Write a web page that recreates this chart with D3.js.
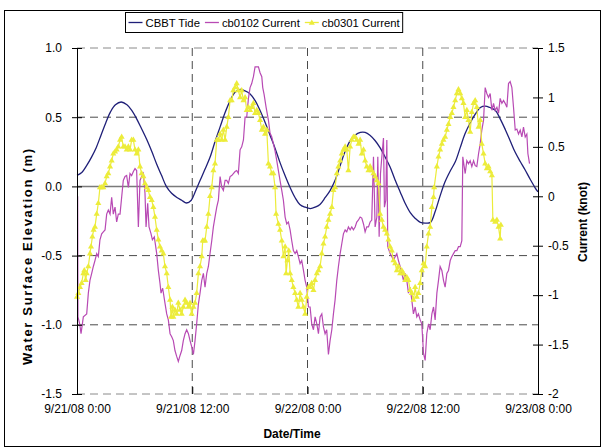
<!DOCTYPE html>
<html>
<head>
<meta charset="utf-8">
<script src="https://cdn.jsdelivr.net/npm/d3@7"></script>
<style>
  body { margin: 0; background: #fff; }
  svg { display: block; font-family: "Liberation Sans", Arial, sans-serif; }
</style>
</head>
<body>
<div id="chart"></div>
<script>
// hours since 9/21/08 0:00, water level (m)
const tideSeries = [
  [0,0.08],[0.5,0.10],[1,0.15],[1.5,0.21],[2,0.28],[2.5,0.37],[3,0.46],[3.5,0.54],[4,0.59],[4.6,0.61],
  [5.2,0.59],[5.7,0.55],[6.2,0.49],[6.7,0.42],[7.25,0.34],[7.8,0.25],[8.3,0.16],[8.8,0.08],[9.3,0.00],
  [9.85,-0.05],[10.4,-0.08],[10.9,-0.10],[11.4,-0.12],[11.9,-0.10],[12.3,-0.04],[12.8,0.04],[13.3,0.12],
  [13.85,0.21],[14.4,0.33],[14.9,0.43],[15.4,0.53],[15.95,0.62],[16.45,0.68],[17,0.70],[17.5,0.69],
  [18,0.67],[18.55,0.62],[19.05,0.55],[19.6,0.46],[20.1,0.37],[20.6,0.28],[21.15,0.17],[21.65,0.08],
  [22.2,-0.01],[22.7,-0.08],[23.2,-0.13],[23.75,-0.15],[24.3,-0.16],[24.8,-0.15],[25.3,-0.13],
  [25.85,-0.08],[26.35,-0.03],[26.85,0.04],[27.4,0.15],[27.9,0.25],[28.45,0.33],[28.95,0.37],[29.5,0.39],
  [30,0.39],[30.5,0.37],[31.05,0.33],[31.55,0.28],[32.1,0.21],[32.6,0.14],[33.1,0.05],[33.65,-0.04],
  [34.15,-0.12],[34.7,-0.19],[35.2,-0.23],[35.75,-0.26],[36.25,-0.265],[36.8,-0.26],[37.3,-0.18],
  [37.8,-0.07],[38.3,0.03],[38.85,0.11],[39.4,0.18],[39.9,0.28],[40.4,0.38],[40.95,0.46],[41.45,0.52],
  [42,0.57],[42.5,0.58],[43,0.57],[43.55,0.55],[44.05,0.49],[44.6,0.41],[45.1,0.33],[45.6,0.25],
  [46.15,0.18],[46.65,0.12],[47.2,0.05],[47.7,-0.01],[48,-0.04]
];

// hours, current (knot)
const cb0102Series = [
  [0.07,0.0],[0.10,-1.22],[0.28,-1.29],[0.42,-1.39],[0.66,-1.22],[1.01,-1.19],[1.18,-0.98],[1.35,-0.85],
  [1.53,-0.78],[1.70,-0.71],[1.87,-0.65],[2.05,-0.58],[2.22,-0.61],[2.39,-0.44],[2.57,-0.38],[2.74,-0.36],
  [2.92,-0.34],[3.09,-0.18],[3.26,-0.14],[3.44,-0.18],[3.61,-0.01],[3.78,-0.18],[3.96,-0.11],[4.13,-0.26],
  [4.30,-0.18],[4.48,-0.18],[4.65,-0.01],[4.82,0.16],[5.00,0.20],[5.17,0.21],[5.35,0.09],[5.52,0.23],
  [5.69,0.21],[5.87,0.25],[6.04,0.28],[6.21,0.26],[6.39,-0.31],[6.56,0.16],[6.73,0.20],[6.91,0.23],
  [7.08,0.03],[7.19,-0.31],[7.36,-0.07],[7.50,-0.31],[7.71,-0.38],[7.85,-0.44],[8.05,-0.41],[8.30,-0.58],
  [8.47,-0.75],[8.64,-0.88],[8.75,-0.98],[8.92,-0.93],[9.16,-1.08],[9.34,-1.19],[9.51,-1.25],[9.69,-1.39],
  [9.86,-1.42],[10.03,-1.46],[10.20,-1.56],[10.38,-1.62],[10.55,-1.67],[10.73,-1.61],[10.90,-1.56],
  [11.07,-1.46],[11.25,-1.39],[11.42,-1.35],[11.60,-1.39],[11.77,-1.46],[11.94,-1.52],[12.12,-1.60],
  [12.29,-1.46],[12.46,-1.29],[12.64,-1.09],[12.81,-0.98],[12.99,-0.85],[13.16,-0.78],[13.33,-0.92],
  [13.51,-0.78],[13.68,-0.71],[13.85,-0.58],[14.03,-0.45],[14.20,-0.31],[14.37,-0.21],[14.55,-0.11],
  [14.72,-0.04],[14.90,0.20],[15.07,0.09],[15.24,0.06],[15.42,0.16],[15.59,0.16],[15.76,0.13],
  [15.94,0.20],[16.11,0.21],[16.28,0.23],[16.46,0.25],[16.63,0.26],[16.80,0.23],[16.98,0.47],
  [17.15,0.50],[17.33,0.57],[17.50,0.80],[17.67,0.80],[17.85,0.99],[18.02,1.10],[18.19,1.14],
  [18.37,1.21],[18.54,1.31],[18.72,1.31],[18.89,1.31],[19.06,1.25],[19.24,1.21],[19.34,1.10],
  [19.48,1.03],[19.69,0.90],[19.93,0.77],[20.10,0.64],[20.28,0.60],[20.45,0.53],[20.62,0.46],
  [20.80,0.36],[20.97,0.26],[21.14,0.16],[21.32,0.06],[21.49,-0.04],[21.67,-0.21],[21.84,-0.28],
  [22.01,-0.26],[22.19,-0.34],[22.36,-0.45],[22.53,-0.55],[22.71,-0.58],[22.88,-0.55],[23.05,-0.61],
  [23.23,-0.68],[23.40,-0.65],[23.58,-0.75],[23.75,-0.85],[23.92,-0.92],[24.10,-1.12],[24.27,-1.12],
  [24.44,-1.29],[24.62,-1.35],[24.79,-1.22],[24.97,-1.29],[25.14,-1.39],[25.31,-1.22],[25.49,-1.19],
  [25.66,-1.32],[25.83,-1.39],[26.00,-1.35],[26.18,-1.60],[26.35,-1.46],[26.53,-1.35],[26.70,-1.19],
  [26.87,-1.05],[27.05,-0.85],[27.22,-0.71],[27.40,-0.58],[27.57,-0.48],[27.74,-0.38],[27.92,-0.34],
  [28.09,-0.36],[28.26,-0.31],[28.44,-0.34],[28.61,-0.31],[28.78,-0.34],[28.96,-0.31],[29.13,-0.26],
  [29.31,-0.24],[29.48,-0.21],[29.65,-0.22],[29.83,-0.28],[30.00,-0.36],[30.17,-0.31],[30.35,-0.31],
  [30.52,-0.26],[30.69,-0.24],[30.87,0.40],[31.04,-0.31],[31.22,-0.21],[31.32,0.40],[31.46,-0.41],
  [31.60,0.23],[31.74,0.40],[31.91,0.59],[32.01,-0.11],[32.15,-0.04],[32.26,0.57],[32.36,-0.51],
  [32.60,-0.58],[32.78,-0.61],[32.95,-0.65],[33.13,-0.61],[33.30,-0.58],[33.47,-0.65],[33.65,-0.71],
  [33.82,-0.78],[33.99,-0.85],[34.17,-0.78],[34.34,-0.85],[34.51,-0.98],[34.69,-0.92],[34.86,-1.05],
  [35.03,-1.19],[35.21,-1.12],[35.38,-1.22],[35.55,-1.19],[35.73,-1.25],[35.90,-1.29],[36.08,-1.59],
  [36.25,-1.66],[36.42,-1.39],[36.60,-1.29],[36.77,-1.35],[36.95,-1.19],[37.12,-1.12],[37.29,-1.25],
  [37.47,-0.98],[37.64,-0.85],[37.81,-0.71],[37.99,-0.75],[38.16,-0.85],[38.33,-0.92],[38.51,-0.78],
  [38.68,-0.75],[38.86,-0.65],[39.03,-0.61],[39.20,-0.58],[39.38,-0.55],[39.55,-0.55],[39.72,-0.51],
  [39.90,-0.51],[40.07,-0.45],[40.17,0.40],[40.42,0.23],[40.59,0.36],[40.76,0.33],[40.94,0.36],
  [41.11,0.30],[41.29,0.36],[41.46,0.31],[41.63,0.30],[41.81,0.43],[41.98,0.53],[42.15,0.67],
  [42.33,0.77],[42.50,1.10],[42.67,1.04],[42.85,1.00],[43.02,1.04],[43.20,0.87],[43.37,0.94],
  [43.54,0.87],[43.72,0.90],[43.89,0.84],[44.06,0.99],[44.24,0.94],[44.41,0.97],[44.58,0.94],
  [44.76,0.90],[44.93,1.14],[45.10,1.16],[45.28,1.10],[45.45,0.90],[45.63,0.67],[45.80,0.68],
  [45.97,0.63],[46.15,0.67],[46.32,0.60],[46.49,0.70],[46.67,0.60],[46.84,0.63],[46.95,0.43],[47.12,0.33]
];

const cb0301Series = [
  [0.00,-1.02],[0.14,-0.98],[0.31,-0.92],[0.48,-0.88],[0.66,-0.78],[0.76,-0.75],[0.90,-0.85],[1.01,-0.78],
  [1.18,-0.71],[1.35,-0.58],[1.46,-0.51],[1.60,-0.41],[1.73,-0.34],[1.87,-0.31],[2.05,-0.18],[2.22,-0.07],
  [2.39,0.09],[2.57,0.09],[2.74,0.09],[2.92,0.13],[3.09,0.20],[3.26,0.23],[3.44,0.30],[3.61,0.36],
  [3.78,0.43],[3.96,0.45],[4.13,0.47],[4.30,0.50],[4.48,0.57],[4.65,0.60],[4.82,0.50],[5.00,0.50],
  [5.17,0.47],[5.35,0.50],[5.52,0.47],[5.69,0.57],[5.87,0.57],[6.04,0.47],[6.21,0.43],[6.39,0.47],
  [6.56,0.30],[6.73,0.23],[6.91,0.20],[7.08,0.13],[7.26,0.09],[7.43,0.06],[7.60,-0.01],[7.78,-0.04],
  [7.95,-0.11],[8.12,-0.21],[8.30,-0.34],[8.47,-0.44],[8.64,-0.51],[8.82,-0.55],[8.99,-0.58],[9.16,-0.71],
  [9.34,-0.78],[9.51,-0.92],[9.69,-1.05],[9.79,-1.22],[9.93,-1.12],[10.03,-1.22],[10.20,-1.15],
  [10.38,-1.19],[10.55,-1.08],[10.73,-1.15],[10.90,-1.19],[11.07,-1.12],[11.25,-1.05],[11.42,-1.08],
  [11.60,-1.12],[11.77,-1.08],[11.94,-1.19],[12.12,-1.12],[12.29,-1.08],[12.46,-0.98],[12.64,-0.78],
  [12.81,-0.71],[12.99,-0.61],[13.09,-0.45],[13.23,-0.45],[13.33,-0.45],[13.51,-0.31],[13.68,-0.18],
  [13.85,0.00],[14.03,0.09],[14.20,0.26],[14.37,0.33],[14.55,0.57],[14.72,0.57],[14.90,0.63],
  [15.07,0.57],[15.24,0.67],[15.42,0.57],[15.59,0.70],[15.76,0.80],[15.94,0.97],[16.11,0.97],
  [16.28,1.07],[16.46,1.10],[16.63,1.14],[16.80,1.07],[16.98,1.00],[17.15,1.07],[17.33,0.97],
  [17.50,1.00],[17.67,0.87],[17.85,0.90],[18.02,0.87],[18.19,0.90],[18.37,0.94],[18.54,0.84],
  [18.72,0.87],[18.89,0.84],[19.06,0.77],[19.24,0.67],[19.41,0.70],[19.58,0.63],[19.76,0.67],
  [19.93,0.33],[20.10,0.30],[20.28,0.23],[20.45,0.23],[20.62,0.09],[20.73,-0.18],[20.97,-0.28],
  [21.14,-0.34],[21.32,-0.45],[21.49,-0.61],[21.67,-0.51],[21.77,-0.78],[21.91,-0.65],[22.05,-0.55],
  [22.19,-0.78],[22.36,-0.85],[22.53,-0.92],[22.71,-0.98],[22.88,-1.05],[23.05,-1.12],[23.23,-0.98],
  [23.40,-1.05],[23.58,-1.12],[23.75,-1.19],[23.92,-1.02],[24.10,-0.92],[24.27,-0.92],[24.44,-0.88],
  [24.62,-0.95],[24.79,-0.85],[24.97,-0.78],[25.14,-0.75],[25.31,-0.71],[25.49,-0.58],[25.66,-0.48],
  [25.83,-0.41],[26.00,-0.31],[26.18,-0.24],[26.35,-0.18],[26.53,-0.11],[26.70,0.06],[26.87,0.09],
  [27.05,0.23],[27.22,0.30],[27.40,0.36],[27.57,0.43],[27.74,0.47],[27.92,0.50],[28.09,0.47],
  [28.26,0.26],[28.44,0.50],[28.61,0.57],[28.78,0.60],[28.96,0.60],[29.13,0.57],[29.31,0.53],
  [29.48,0.57],[29.65,0.43],[29.83,0.47],[30.00,0.36],[30.17,0.30],[30.35,0.26],[30.52,0.30],
  [30.69,0.26],[30.87,0.23],[31.04,0.20],[31.22,0.16],[31.39,0.13],[31.56,-0.18],[31.74,-0.24],
  [31.91,-0.31],[32.08,-0.34],[32.26,-0.38],[32.43,-0.44],[32.60,-0.51],[32.78,-0.55],[32.95,-0.65],
  [33.13,-0.68],[33.30,-0.75],[33.47,-0.71],[33.65,-0.78],[33.82,-0.75],[33.99,-0.78],[34.17,-0.85],
  [34.34,-0.82],[34.51,-0.85],[34.69,-0.95],[34.86,-0.98],[35.03,-1.05],[35.21,-0.92],[35.38,-1.02],
  [35.55,-0.98],[35.73,-0.88],[35.90,-0.75],[36.08,-0.68],[36.25,-0.71],[36.42,-0.51],[36.60,-0.38],
  [36.77,-0.31],[36.95,-0.11],[37.12,-0.01],[37.19,0.09],[37.47,0.30],[37.64,0.40],[37.81,0.47],
  [37.99,0.53],[38.16,0.57],[38.33,0.60],[38.51,0.67],[38.68,0.73],[38.86,0.80],[39.03,0.84],
  [39.20,0.90],[39.38,0.97],[39.55,1.04],[39.72,1.08],[39.90,1.04],[40.07,0.99],[40.24,0.94],
  [40.42,0.80],[40.59,0.87],[40.76,0.77],[40.94,0.65],[41.11,0.85],[41.29,0.94],[41.46,0.97],
  [41.63,0.90],[41.81,0.70],[41.98,0.77],[42.15,0.53],[42.33,0.43],[42.50,0.33],[42.67,0.28],
  [42.85,0.30],[43.02,0.25],[43.20,0.21],[43.30,-0.24],[43.54,-0.26],[43.72,-0.24],[43.89,-0.31],
  [44.06,-0.43],[44.13,-0.29]
];

const xTicks = [0, 12, 24, 36, 48];
const xTickLabels = ['9/21/08 0:00', '9/21/08 12:00', '9/22/08 0:00', '9/22/08 12:00', '9/23/08 0:00'];
const leftTicks = [1.0, 0.5, 0.0, -0.5, -1.0, -1.5];
const rightTicks = [1.5, 1, 0.5, 0, -0.5, -1, -1.5, -2];
const legendNames = ['CBBT Tide', 'cb0102 Current', 'cb0301 Current'];

const width = 605;
const height = 447;
const margin = { top: 48, right: 67, bottom: 53, left: 77 };
const innerWidth = width - margin.left - margin.right;
const innerHeight = height - margin.top - margin.bottom;

const navy = '#1f1f78';
const magenta = '#b84ab4';
const yellow = '#ecec3a';

const svg = d3.select('#chart')
  .append('svg')
  .attr('width', width)
  .attr('height', height);

// outer chart frame
svg.append('rect')
  .attr('x', 4.5).attr('y', 10.5)
  .attr('width', 596).attr('height', 436)
  .attr('fill', 'none')
  .attr('stroke', '#000');

const g = svg.append('g')
  .attr('transform', `translate(${margin.left},${margin.top})`);

const x = d3.scaleLinear().domain([0, 48]).range([0, innerWidth]);
const yLeft = d3.scaleLinear().domain([-1.5, 1.0]).range([innerHeight, 0]);
const yRight = d3.scaleLinear().domain([-2, 1.5]).range([innerHeight, 0]);

// grid
g.selectAll('.hgrid')
  .data(leftTicks.filter(d => d !== 0))
  .enter().append('line')
  .attr('x1', 0).attr('x2', innerWidth)
  .attr('y1', d => yLeft(d)).attr('y2', d => yLeft(d))
  .attr('stroke', d => (d === 1.0 || d === -1.5) ? '#8a8a8a' : '#4a4a4a')
  .attr('stroke-width', 1)
  .attr('stroke-dasharray', '8,5');

g.selectAll('.vgrid')
  .data(xTicks.slice(1, -1))
  .enter().append('line')
  .attr('x1', d => x(d)).attr('x2', d => x(d))
  .attr('y1', 0).attr('y2', innerHeight)
  .attr('stroke', '#4a4a4a')
  .attr('stroke-dasharray', '8,5');

g.append('line')
  .attr('x1', 0).attr('x2', innerWidth)
  .attr('y1', yLeft(0)).attr('y2', yLeft(0))
  .attr('stroke', '#7a7a7a')
  .attr('stroke-width', 1.5);

// series
g.append('path')
  .datum(tideSeries)
  .attr('fill', 'none')
  .attr('stroke', navy)
  .attr('stroke-width', 1.3)
  .attr('d', d3.line().x(d => x(d[0])).y(d => yLeft(d[1])).curve(d3.curveCatmullRom));

g.append('path')
  .datum(cb0102Series)
  .attr('fill', 'none')
  .attr('stroke', magenta)
  .attr('stroke-width', 1.2)
  .attr('d', d3.line().x(d => x(d[0])).y(d => yRight(d[1])));

g.append('path')
  .datum(cb0301Series)
  .attr('fill', 'none')
  .attr('stroke', yellow)
  .attr('stroke-width', 1.2)
  .attr('d', d3.line().x(d => x(d[0])).y(d => yRight(d[1])));

const tri = d3.symbol().type(d3.symbolTriangle).size(16);
g.selectAll('.tri')
  .data(cb0301Series)
  .enter().append('path')
  .attr('d', tri)
  .attr('transform', d => `translate(${x(d[0])},${yRight(d[1])})`)
  .attr('fill', yellow);

// axes
const leftAxis = g.append('g')
  .call(d3.axisLeft(yLeft).tickValues(leftTicks).tickFormat(d => d.toFixed(1))
    .tickSize(5).tickSizeOuter(0).tickPadding(10));
leftAxis.selectAll('.tick line').attr('x1', 5);

const rightAxis = g.append('g')
  .attr('transform', `translate(${innerWidth},0)`)
  .call(d3.axisRight(yRight).tickValues(rightTicks).tickFormat(d => String(d))
    .tickSize(5).tickSizeOuter(0).tickPadding(5));
rightAxis.selectAll('.tick line').attr('x1', -5);

const bottomAxis = g.append('g')
  .attr('transform', `translate(0,${innerHeight})`)
  .call(d3.axisBottom(x).tickValues(xTicks).tickFormat((d, i) => xTickLabels[i])
    .tickSize(-7).tickPadding(10));
bottomAxis.select('.domain').remove();
bottomAxis.selectAll('.tick line').filter(d => d === 0 || d === 48).remove();

[leftAxis, rightAxis, bottomAxis].forEach(a => {
  a.selectAll('text').attr('font-size', 12).attr('font-family', '"Liberation Sans", Arial, sans-serif').attr('fill', '#000');
  a.selectAll('line, path').attr('stroke', '#000');
});

// axis titles
svg.append('text')
  .attr('transform', 'translate(32,257) rotate(-90)')
  .attr('text-anchor', 'middle')
  .attr('font-size', 13)
  .attr('font-weight', 'bold')
  .attr('textLength', 216)
  .attr('lengthAdjust', 'spacing')
  .text('Water Surface Elevation (m)');

svg.append('text')
  .attr('transform', 'translate(587,222) rotate(-90)')
  .attr('text-anchor', 'middle')
  .attr('font-size', 12)
  .attr('font-weight', 'bold')
  .text('Current (knot)');

svg.append('text')
  .attr('x', 292)
  .attr('y', 438)
  .attr('text-anchor', 'middle')
  .attr('font-size', 12)
  .attr('font-weight', 'bold')
  .text('Date/Time');

// legend, items laid out one after another
const legend = svg.append('g').attr('transform', 'translate(125.5,12.5)');
const legendBox = legend.append('rect')
  .attr('height', 20)
  .attr('fill', '#fff').attr('stroke', '#000');

const legendColors = [navy, magenta, yellow];
let cursor = 3;
legendNames.forEach((name, i) => {
  const item = legend.append('g').attr('transform', `translate(${cursor},10)`);
  item.append('line')
    .attr('x1', 0).attr('x2', 14)
    .attr('stroke', legendColors[i]).attr('stroke-width', 1.3);
  if (i === 2) {
    item.append('path').attr('d', tri).attr('transform', 'translate(7,0.5)').attr('fill', yellow);
  }
  const label = item.append('text')
    .attr('x', 17).attr('y', 4)
    .attr('font-size', 11.3)
    .text(name);
  cursor += 17 + label.node().getComputedTextLength() + 5;
});
legendBox.attr('width', cursor - 2);
</script>
</body>
</html>
